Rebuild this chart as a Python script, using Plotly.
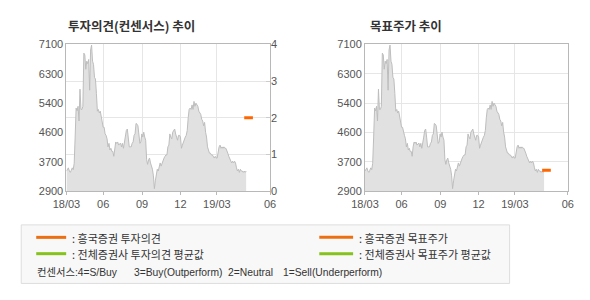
import plotly.graph_objects as go

# ---- data ----
price = [3480,3520,3570,3480,3440,3500,3570,3520,3700,4450,
         5280,5200,5330,4910,5820,5240,5240,5330,6850,6800,
         6390,6620,6550,6670,5790,6940,7080,6620,6530,6160,
         6110,5700,5190,5240,5140,5190,5050,4960,4730,4730,
         4540,4500,4400,4170,4270,4080,4130,4040,4040,3900,
         4170,4310,4270,4310,4220,4270,4280,4170,4270,4130,
         4360,4450,4640,4680,4450,4170,4170,4170,4270,4310,
         4500,4540,4840,4820,4770,4450,4270,4310,4540,4450,
         4590,4450,4360,3800,3670,3800,3850,3710,3620,3530,
         3340,2975,3200,3430,3530,3480,3620,3710,3620,3710,
         3800,3850,3900,3940,3940,4170,4220,4540,4450,4400,
         4590,4640,4680,4540,4450,4360,4500,4500,4450,4130,
         4220,4310,4360,4450,4500,4640,5000,5240,5280,5240,
         5370,5240,5470,5330,5420,5370,5330,5190,5140,5100,
         4960,4910,4770,4870,4590,4450,4170,4040,3990,3990,
         3940,3940,3900,3850,3900,3850,3850,4080,4170,4220,
         4130,4170,4130,4170,4130,4130,4080,3990,3900,3850,
         3760,3710,3760,3710,3760,3710,3570,3480,3530,3440,
         3530,3480,3480,3440,3480,3440,3480]
days = list(range(len(price)))

opinion_days = [184, 193]
opinion_vals = [2, 2]
target_days = [184, 193]
target_vals = [3500, 3500]

x_tickvals = [0, 38, 78.3, 118, 155.7, 210.7]
x_ticktext = ["18/03", "06", "09", "12", "19/03", "06"]
y_tickvals = [2900, 3740, 4580, 5420, 6260, 7100]
y_ticktext = ["2900", "3700", "4600", "5400", "6300", "7100"]
op_tickvals = [0, 1, 2, 3, 4]

W, H = 590, 300
def px(x): return x / W
def py(y): return 1 - y / H

FONT = "Liberation Sans, Noto Sans CJK KR, sans-serif"
KFONT = "Noto Sans CJK KR, Liberation Sans, sans-serif"
FILL = "#e1e1e1"
LINE = "#bdbdbd"
GRID = "#e6e6e6"
AXL = "#b8b8b8"
TXT = "#555555"
ORANGE = "#ff6600"

fig = go.Figure()
fig.add_trace(go.Scatter(x=days, y=price, xaxis="x", yaxis="y", mode="lines",
                         fill="tozeroy", fillcolor=FILL, line=dict(color=LINE, width=1),
                         hoverinfo="skip", showlegend=False))
fig.add_trace(go.Scatter(x=opinion_days, y=opinion_vals, xaxis="x", yaxis="y2", mode="lines",
                         line=dict(color=ORANGE, width=3), showlegend=False))
fig.add_trace(go.Scatter(x=days, y=price, xaxis="x2", yaxis="y3", mode="lines",
                         fill="tozeroy", fillcolor=FILL, line=dict(color=LINE, width=1),
                         hoverinfo="skip", showlegend=False))
fig.add_trace(go.Scatter(x=target_days, y=target_vals, xaxis="x2", yaxis="y3", mode="lines",
                         line=dict(color=ORANGE, width=3), showlegend=False))

ydom = [py(193), py(40)]
xcommon = dict(range=[0, 210.7], tickvals=x_tickvals, ticktext=x_ticktext,
               tickfont=dict(family=FONT, size=11, color=TXT),
               showgrid=True, gridcolor=GRID, gridwidth=1, zeroline=False,
               showline=True, linecolor=AXL, mirror=True,
               ticks="outside", ticklen=3, tickcolor=AXL, fixedrange=True)
ycommon = dict(range=[2900, 7100], tickvals=y_tickvals, ticktext=y_ticktext,
               tickfont=dict(family=FONT, size=11, color=TXT), domain=ydom,
               zeroline=False, showline=True, linecolor=AXL, mirror=True,
               ticks="", fixedrange=True)

fig.update_layout(
    width=W, height=H, margin=dict(l=0, r=0, t=0, b=0),
    paper_bgcolor="white", plot_bgcolor="white",
    xaxis=dict(domain=[px(54.3), px(265)], anchor="y", **xcommon),
    yaxis=dict(anchor="x", showgrid=False, **ycommon),
    yaxis2=dict(overlaying="y", side="right", anchor="x", range=[0, 4],
                tickvals=op_tickvals, tickfont=dict(family=FONT, size=11, color=TXT),
                showgrid=True, gridcolor=GRID, zeroline=False, showline=False,
                ticks="inside", ticklen=4, tickcolor="#cccccc", fixedrange=True),
    xaxis2=dict(domain=[px(363.3), px(573.3)], anchor="y3", **xcommon),
    yaxis3=dict(anchor="x2", showgrid=True, gridcolor=GRID, **ycommon),
)

ann = []
ann.append(dict(text="<b>투자의견(컨센서스) 추이</b>", x=px(54), y=py(20.5), xref="paper", yref="paper",
                xanchor="left", yanchor="middle", showarrow=False,
                font=dict(family=KFONT, size=12.5, color="#333333")))
ann.append(dict(text="<b>목표주가 추이</b>", x=px(366), y=py(20.5), xref="paper", yref="paper",
                xanchor="left", yanchor="middle", showarrow=False,
                font=dict(family=KFONT, size=12.5, color="#333333")))

shapes = [dict(type="rect", xref="paper", yref="paper", x0=px(7.5), x1=px(513), y0=py(289), y1=py(228),
               fillcolor="#f8f8f8", line=dict(color="#dddddd", width=1), layer="below")]

legend_items = [
    (23, 54, 241, "#ec7012", ": 흥국증권 투자의견"),
    (23, 54, 258, "#86c21c", ": 전체증권사 투자의견 평균값"),
    (316, 351, 241, "#ec7012", ": 흥국증권 목표주가"),
    (316, 351, 258, "#86c21c", ": 전체증권사 목표주가 평균값"),
]
for x0, x1, y, c, t in legend_items:
    shapes.append(dict(type="line", xref="paper", yref="paper", x0=px(x0), x1=px(x1),
                       y0=py(y), y1=py(y), line=dict(color=c, width=3)))
    ann.append(dict(text=t, x=px(x1 + 4), y=py(y + 0.5), xref="paper", yref="paper",
                    xanchor="left", yanchor="middle", showarrow=False,
                    font=dict(family=KFONT, size=11, color="#333333")))

cons = [(22, "컨센서스:4=S/Buy"), (122, "3=Buy(Outperform)"), (219, "2=Neutral"), (276, "1=Sell(Underperform)")]
for x, t in cons:
    ann.append(dict(text=t, x=px(x), y=py(277.5), xref="paper", yref="paper",
                    xanchor="left", yanchor="middle", showarrow=False,
                    font=dict(family=FONT, size=10.3, color="#333333")))

fig.update_layout(annotations=ann, shapes=shapes)
fig.write_html("out.html")
